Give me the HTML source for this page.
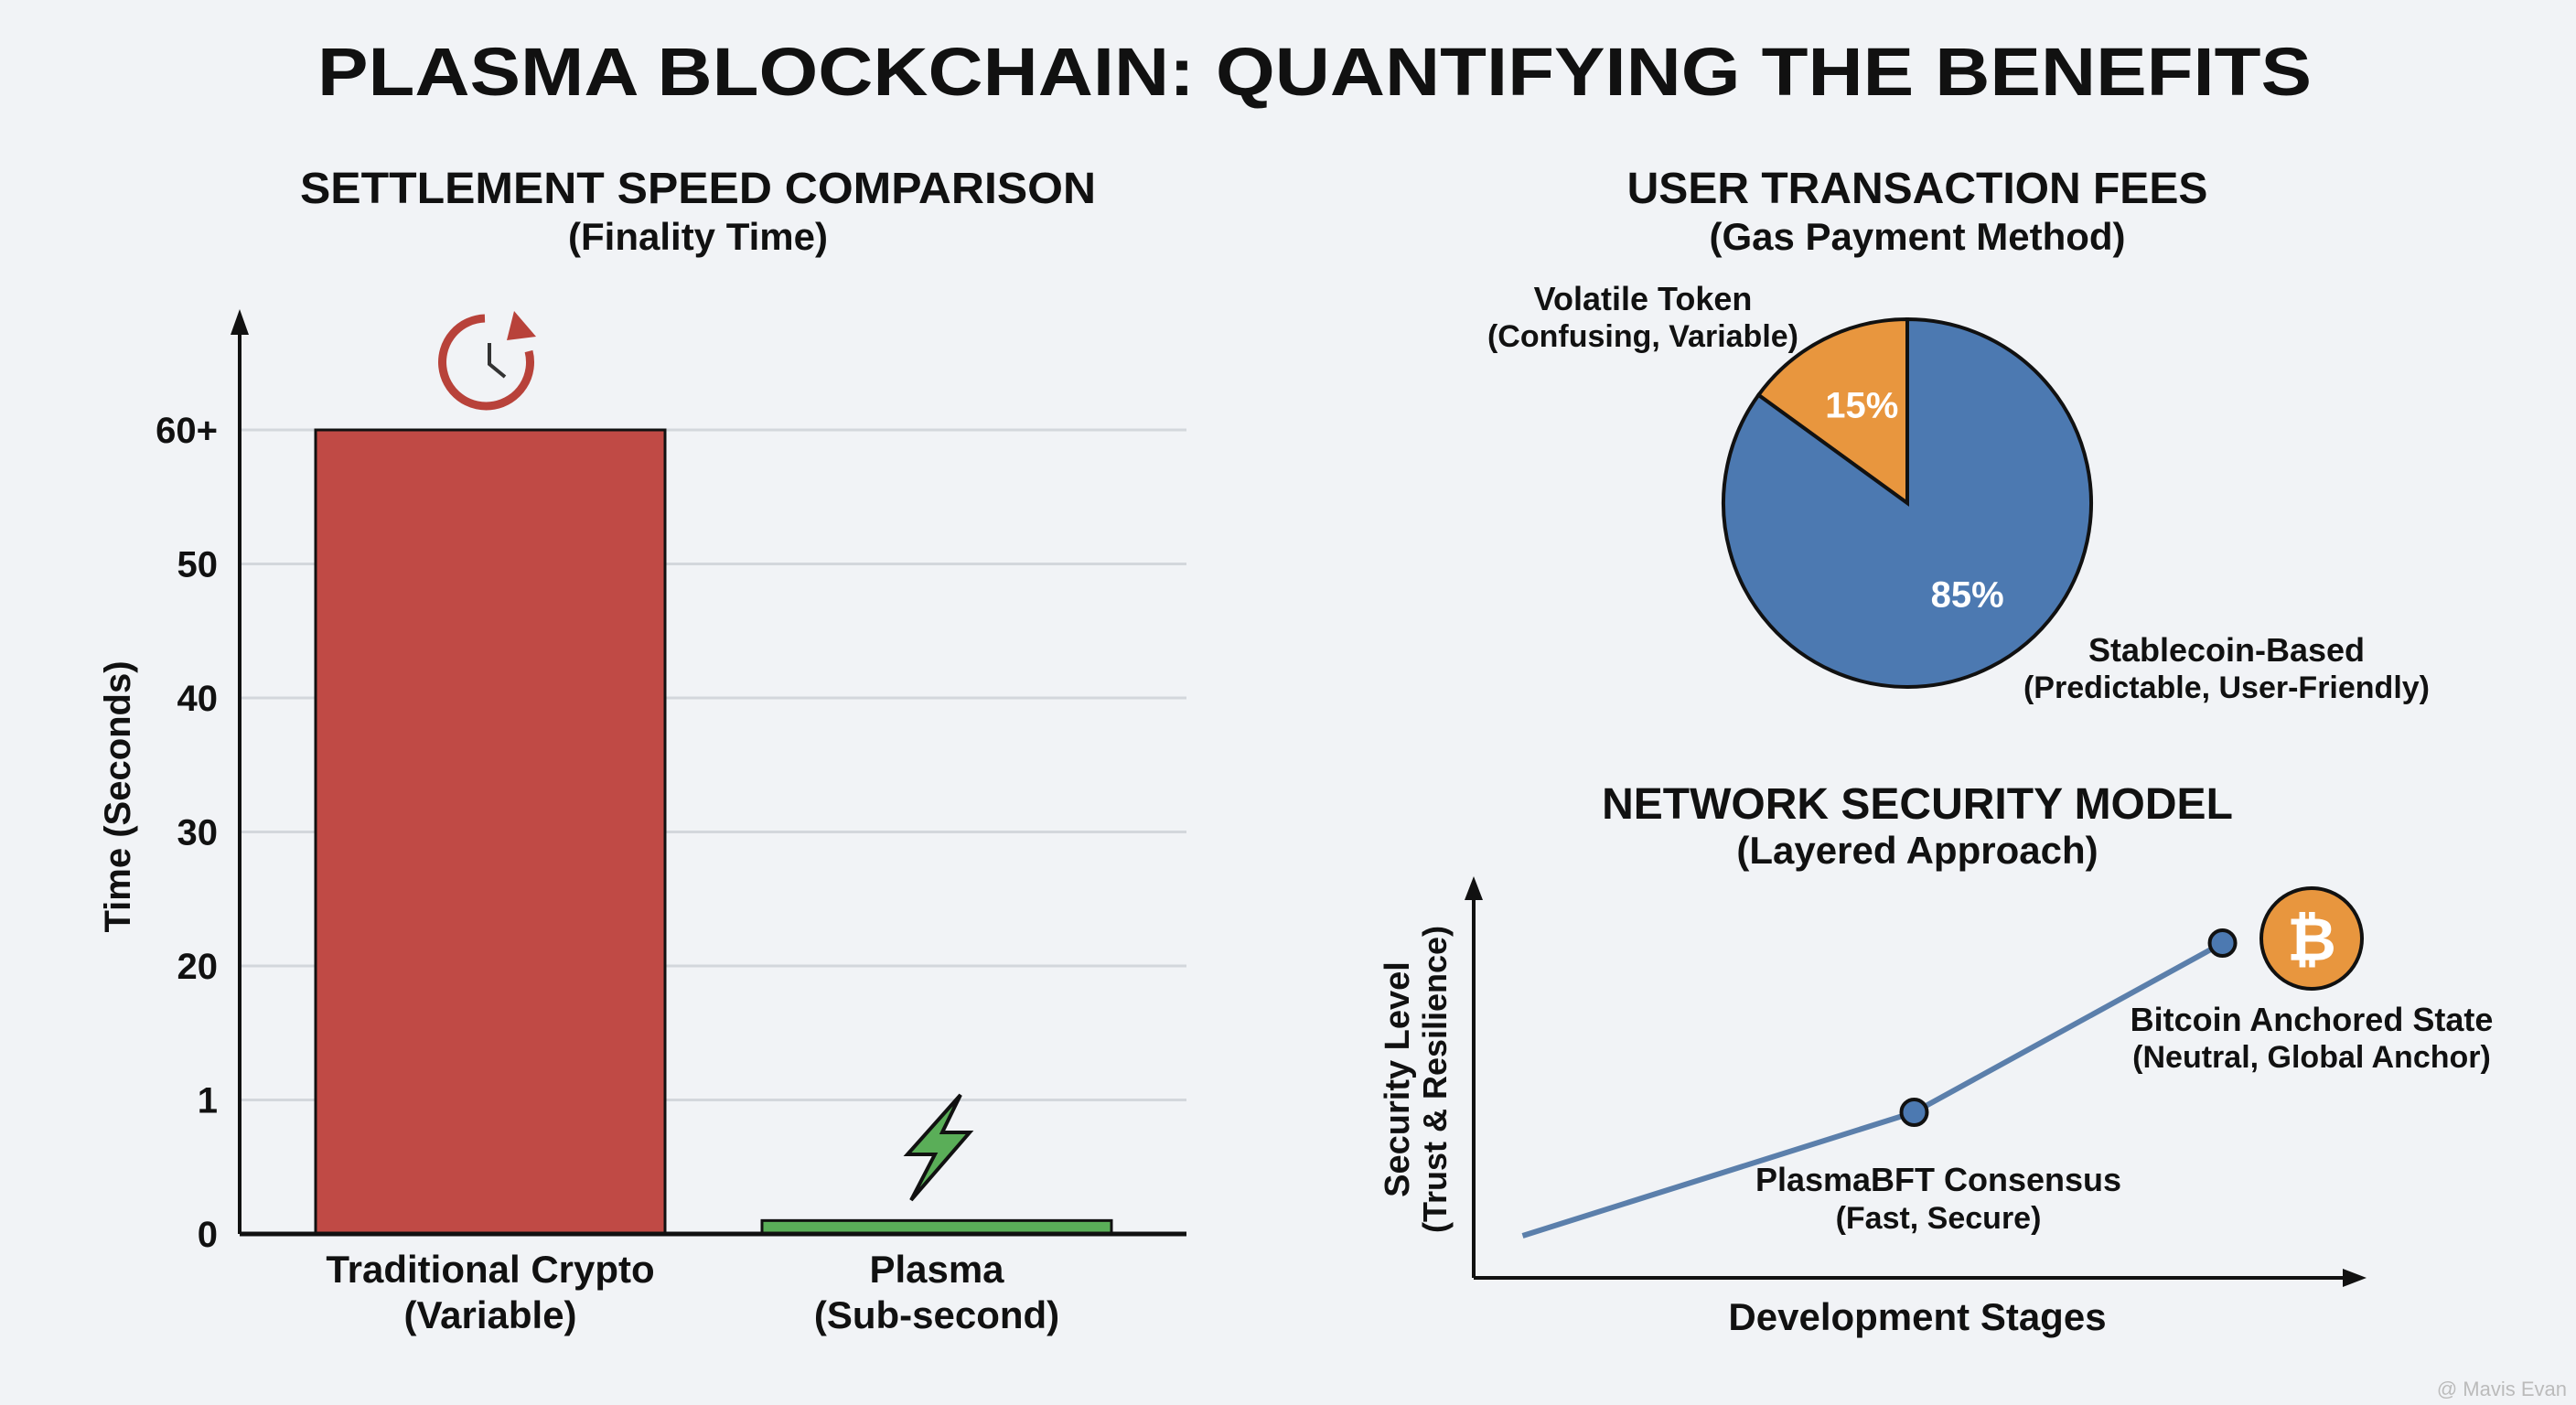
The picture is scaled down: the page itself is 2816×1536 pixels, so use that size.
<!DOCTYPE html>
<html><head><meta charset="utf-8"><style>
html,body{margin:0;padding:0;background:#f1f3f6;}
svg{display:block;}
text{font-family:"Liberation Sans",sans-serif;fill:#111;}
.h{font-weight:bold;}
.n{font-family:"Liberation Sans Narrow","Liberation Sans",sans-serif;font-weight:bold;}
</style></head><body>
<svg id="root" width="2816" height="1536" viewBox="0 0 2816 1536" xmlns="http://www.w3.org/2000/svg">
<rect width="2816" height="1536" fill="#f1f3f6"/>
<text x="1437" y="104" text-anchor="middle" class="h" font-size="74" textLength="2180" lengthAdjust="spacingAndGlyphs">PLASMA BLOCKCHAIN: QUANTIFYING THE BENEFITS</text>

<g id="bar">
<text x="763" y="222" text-anchor="middle" class="h" font-size="48" textLength="870" lengthAdjust="spacingAndGlyphs">SETTLEMENT SPEED COMPARISON</text>
<text x="763" y="273" text-anchor="middle" class="n" font-size="42">(Finality Time)</text>
<text transform="translate(142,871) rotate(-90)" text-anchor="middle" class="h" font-size="40">Time (Seconds)</text>
<g id="barGrid"></g>
<g id="bars"></g>
<line x1="262" y1="1349" x2="1297" y2="1349" stroke="#111" stroke-width="5"/>
<line x1="262" y1="1349" x2="262" y2="360" stroke="#111" stroke-width="4"/>
<polygon points="262,338 252,366 272,366" fill="#111"/>
<g>
<path d="M578,384 A48,48 0 1 1 530,348" fill="none" stroke="#b8423a" stroke-width="9"/>
<polygon points="562,340 586,368 554,372" fill="#b8423a"/>
<path d="M535,375 L535,398 L552,412" fill="none" stroke="#333" stroke-width="4"/>
</g>
<polygon points="1050,1197 992,1262 1022,1262 996,1312 1060,1238 1030,1238 1050,1197" fill="#5aae58" stroke="#111" stroke-width="4"/>
</g>

<g id="pie">
<text x="2096" y="222" text-anchor="middle" class="h" font-size="48">USER TRANSACTION FEES</text>
<text x="2096" y="273" text-anchor="middle" class="n" font-size="42">(Gas Payment Method)</text>
<g id="slices"></g>
<text x="1796" y="339" text-anchor="middle" class="n" font-size="36">Volatile Token</text>
<text x="1796" y="379" text-anchor="middle" class="n" font-size="34">(Confusing, Variable)</text>
<text x="2434" y="723" text-anchor="middle" class="n" font-size="36">Stablecoin-Based</text>
<text x="2434" y="763" text-anchor="middle" class="n" font-size="34">(Predictable, User-Friendly)</text>
</g>

<g id="line">
<text x="2096" y="895" text-anchor="middle" class="h" font-size="48">NETWORK SECURITY MODEL</text>
<text x="2096" y="944" text-anchor="middle" class="n" font-size="42">(Layered Approach)</text>
<line x1="1611" y1="1397" x2="1611" y2="980" stroke="#111" stroke-width="4"/>
<polygon points="1611,958 1601,984 1621,984" fill="#111"/>
<line x1="1611" y1="1397" x2="2565" y2="1397" stroke="#111" stroke-width="4"/>
<polygon points="2587,1397 2561,1387 2561,1407" fill="#111"/>
<text transform="translate(1540,1180) rotate(-90)" text-anchor="middle" class="h" font-size="38">Security Level</text>
<text transform="translate(1581,1180) rotate(-90)" text-anchor="middle" class="h" font-size="36">(Trust &amp; Resilience)</text>
<text x="2096" y="1454" text-anchor="middle" class="n" font-size="42">Development Stages</text>
<g id="lineMarks"></g>
<g>
<circle cx="2527" cy="1026" r="55" fill="#e8963e" stroke="#111" stroke-width="4"/>
<text x="2527" y="1050" text-anchor="middle" class="h" font-size="66" style="fill:#fff">₿</text>
</g>
<text x="2119" y="1302" text-anchor="middle" class="n" font-size="36">PlasmaBFT Consensus</text>
<text x="2119" y="1343" text-anchor="middle" class="n" font-size="34">(Fast, Secure)</text>
<text x="2527" y="1127" text-anchor="middle" class="n" font-size="36">Bitcoin Anchored State</text>
<text x="2527" y="1167" text-anchor="middle" class="n" font-size="34">(Neutral, Global Anchor)</text>
</g>
<text x="2806" y="1526" text-anchor="end" font-size="22" style="fill:#bbb">@ Mavis Evan</text>
</svg>
<script>
const barCategories = ["Traditional Crypto", "Plasma"];
const barSubLabels = ["(Variable)", "(Sub-second)"];
const barValues = [60, 0.1];
const tickValues = [0, 1, 20, 30, 40, 50, 60];
const tickLabels = ["0", "1", "20", "30", "40", "50", "60+"];
const pieLabels = ["Volatile Token", "Stablecoin-Based"];
const pieValues = [15, 85];
const stageNames = ["Start", "PlasmaBFT Consensus", "Bitcoin Anchored State"];
const stageX = [0.5, 4.5, 7.65];
const securityValues = [0.46, 1.81, 3.66];

const NS = "http://www.w3.org/2000/svg";
function mk(tag, attrs, parent){const e=document.createElementNS(NS,tag);for(const k in attrs)e.setAttribute(k,attrs[k]);parent.appendChild(e);return e;}

// bar chart: piecewise axis with equally spaced ticks
const y0 = 1349, step = (1349 - 470) / 6;
function yScale(v){
  for (let i=0;i<tickValues.length-1;i++){
    const a=tickValues[i], b=tickValues[i+1];
    if (v<=b || i===tickValues.length-2){
      return y0 - (i + (v-a)/(b-a))*step;
    }
  }
}
const bandStart=[345,833], bandW=382;
function xBand(i){ return 345 + i*488; }
const grid=document.getElementById('barGrid');
tickValues.forEach((t,i)=>{
  const y=yScale(t);
  if(i>0){
    const l=mk('line',{x1:262,x2:1297,y1:y,y2:y,stroke:'#d3d7dc','stroke-width':3},grid);
    
    
  }
  const tx=mk('text',{x:238,y:y+14,'text-anchor':'end','font-size':40,'class':'h'},grid);
  tx.textContent=tickLabels[i];
  
  
});
const barsG=document.getElementById('bars');
const colors=['#c04a45','#5aae58'];
barValues.forEach((v,i)=>{
  const x=xBand(i), y=yScale(v);
  const r=mk('rect',{x:x,y:y,width:bandW,height:y0-y,fill:colors[i],stroke:'#111','stroke-width':3},barsG);
  
  
  const t1=mk('text',{x:x+bandW/2,y:1402,'text-anchor':'middle','font-size':42,'class':'n'},barsG);
  t1.textContent=barCategories[i];
  
  
  const t2=mk('text',{x:x+bandW/2,y:1452,'text-anchor':'middle','font-size':42,'class':'n'},barsG);
  t2.textContent=barSubLabels[i];
  
  
});

// pie
const cx=2085, cy=550, R=201;
const total=pieValues.reduce((a,b)=>a+b,0);
const slicesG=document.getElementById('slices');
const pieColors=['#e8963e','#4c79b1'];
let ang=0; // degrees counterclockwise from top
pieValues.forEach((v,i)=>{
  const a0=ang, a1=ang+v/total*360;
  const p=(a)=>[cx-R*Math.sin(a*Math.PI/180), cy-R*Math.cos(a*Math.PI/180)];
  const s=p(a0), e=p(a1), large=(a1-a0)>180?1:0;
  const path=mk('path',{d:`M${cx},${cy} L${s[0]},${s[1]} A${R},${R} 0 ${large} 0 ${e[0]},${e[1]} Z`,fill:pieColors[i],stroke:'#111','stroke-width':4},slicesG);
  
  
  const mid=(a0+a1)/2, rr=i===0?0.6:0.5;
  const lx=cx-R*rr*Math.sin(mid*Math.PI/180)+(i===0?5:0), ly=cy-R*rr*Math.cos(mid*Math.PI/180);
  const t=mk('text',{x:i===0?lx:lx+20,y:(i===0?ly:ly+10)+14,'text-anchor':'middle','font-size':40,'class':'n',style:'fill:#fff'},slicesG);
  t.textContent=v+'%';
  
  
  ang=a1;
});

// line
const lx=(v)=>1611+v*107;
const ly=(v)=>1397-v*100;
const lm=document.getElementById('lineMarks');
const pts=stageX.map((x,i)=>[lx(x),ly(securityValues[i])]);
const pl=mk('polyline',{points:pts.map(p=>p.join(',')).join(' '),fill:'none',stroke:'#5b7fab','stroke-width':6},lm);


pts.forEach((p,i)=>{
  if(i===0)return;
  const c=mk('circle',{cx:p[0],cy:p[1],r:14,fill:'#4c79b1',stroke:'#111','stroke-width':4},lm);
  
  
});
</script>
</body></html>
